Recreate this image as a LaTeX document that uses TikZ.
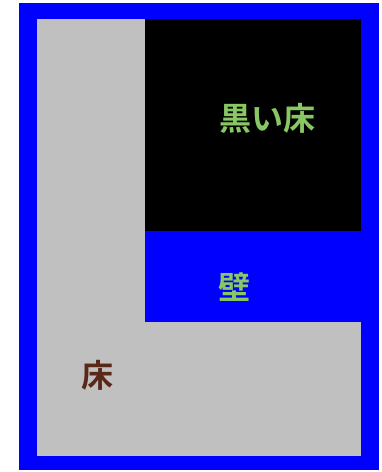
\documentclass[tikz,border=0pt]{standalone}
\usepackage{fontspec}
\newfontfamily\cjk{Noto Sans CJK JP}[BoldFont={* Bold}]
\definecolor{floorgray}{RGB}{192,192,192}
\definecolor{wallblue}{RGB}{0,0,255}
\definecolor{labelgreen}{RGB}{136,200,100}
\definecolor{labelbrown}{RGB}{90,40,25}
\tikzset{label text/.style={font=\cjk\bfseries\fontsize{32}{32}\selectfont, inner sep=0pt}}

\begin{document}
\begin{tikzpicture}[x=1pt,y=-1pt]
		\useasboundingbox (0,0) rectangle (382,472);
		% outer wall
		\fill [wallblue] (19,3) rectangle (379,470);
		% floor
		\fill [floorgray] (37,19) rectangle (361,456);
		% black floor and wall inside
		\fill [black] (145,19) rectangle (361,231);
		\fill [wallblue] (145,231) rectangle (379,322);
		\node [label text, text=labelgreen] (blackfloor) at (267,118) {黒い床};
		\node [label text, text=labelgreen] (wall) at (234,287) {壁};
		\node [label text, text=labelbrown] (floor) at (97,375) {床};
\end{tikzpicture}
\end{document}
